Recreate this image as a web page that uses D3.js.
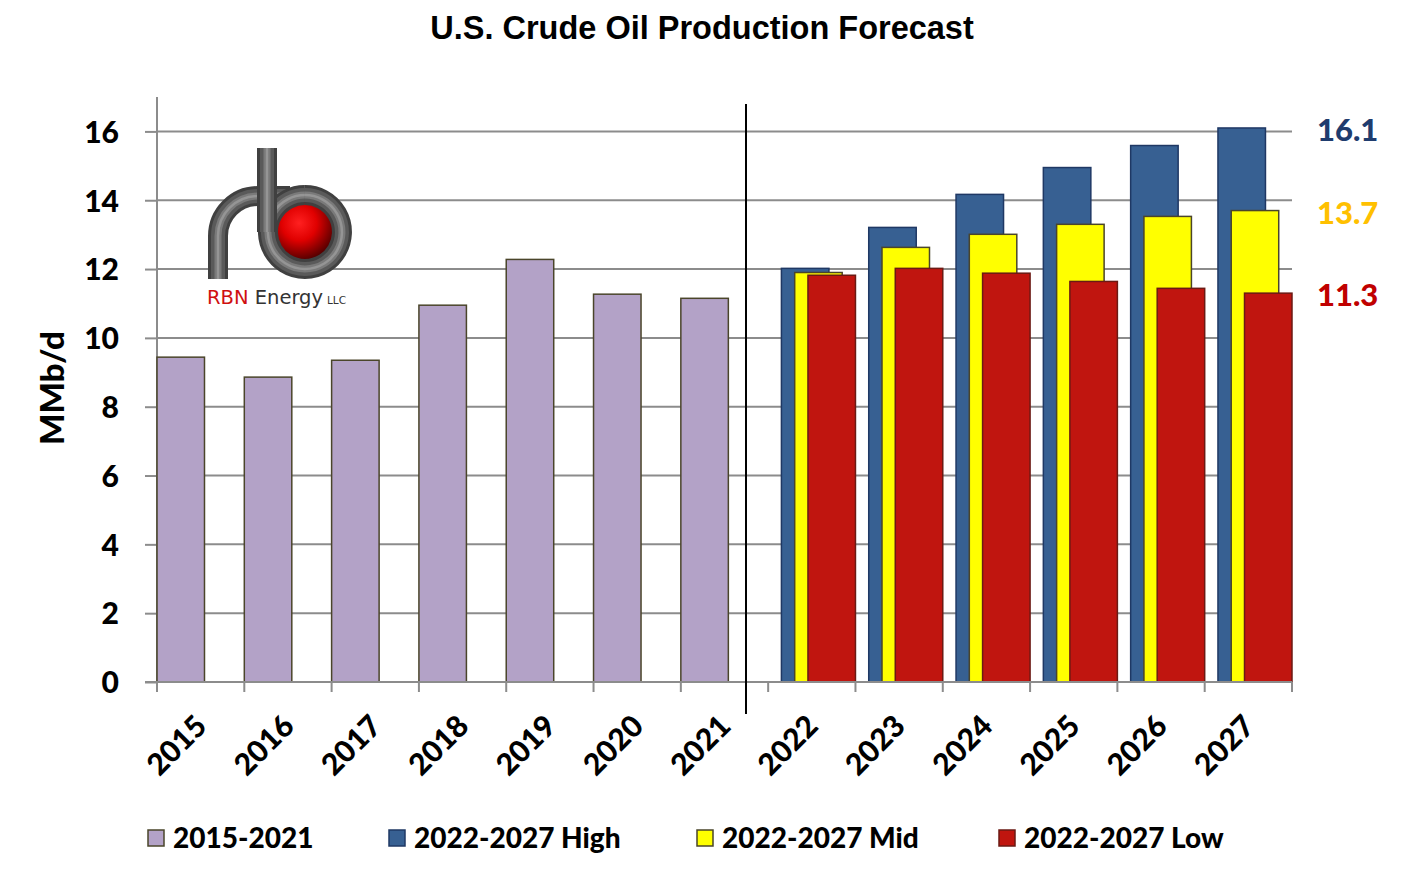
<!DOCTYPE html>
<html>
<head>
<meta charset="utf-8">
<script src="https://cdn.jsdelivr.net/npm/d3@7"></script>
<style>
  html, body { margin: 0; padding: 0; background: #fff; }
  svg { display: block; }
  .heavy { font-family: Lato, 'Open Sans', sans-serif; font-weight: 900; }
</style>
</head>
<body>
<svg id="chart" width="1420" height="879"></svg>
<script>
// ---- data ----
const years = ["2015","2016","2017","2018","2019","2020","2021","2022","2023","2024","2025","2026","2027"];
const histYears = ["2015","2016","2017","2018","2019","2020","2021"];
const histValues = [9.44, 8.86, 9.35, 10.95, 12.28, 11.27, 11.15];
const fcstYears = ["2022","2023","2024","2025","2026","2027"];
const highValues = [12.02, 13.21, 14.17, 14.95, 15.59, 16.1];
const midValues  = [11.90, 12.63, 13.01, 13.30, 13.53, 13.7];
const lowValues  = [11.82, 12.02, 11.88, 11.64, 11.44, 11.3];
const yTicks = [0, 2, 4, 6, 8, 10, 12, 14, 16];
const seriesNames = ["2015-2021", "2022-2027 High", "2022-2027 Mid", "2022-2027 Low"];
const endLabels = ["16.1", "13.7", "11.3"];

const fills   = ["#b3a2c7", "#376092", "#ffff00", "#c0150f"];
const strokes = ["#4a452a", "#1f3864", "#4a452a", "#6b1a14"];
const endLabelColors = ["#1f3c6e", "#ffc000", "#c00000"];

(function () {
const svg = d3.select("#chart");
const pLeft = 157, pRight = 1292, pTop = 97, pBottom = 682;

const x = d3.scaleBand().domain(years).range([pLeft, pRight]).paddingInner(0).paddingOuter(0);
const y = d3.scaleLinear().domain([0, 17]).range([pBottom, pTop]);
const bw = x.bandwidth();
const step = bw * 0.152, barW = bw * 0.544;

// title
svg.append("text").attr("x", 702).attr("y", 39).attr("text-anchor", "middle")
  .style("font-family", "'Liberation Sans', Arial, sans-serif").style("font-weight", "bold")
  .style("font-size", "32.5px").attr("fill", "#000").text("U.S. Crude Oil Production Forecast");

// gridlines
svg.append("g").selectAll("line").data(yTicks.filter(d => d > 0)).join("line")
  .attr("x1", pLeft).attr("x2", pRight).attr("y1", d => y(d)).attr("y2", d => y(d))
  .attr("stroke", "#8c8c8c").attr("stroke-width", 2);

// y axis
const yAxis = d3.axisLeft(y).tickValues(yTicks).tickSize(12).tickPadding(26);
const gy = svg.append("g").attr("transform", `translate(${pLeft},0)`).call(yAxis);
gy.select(".domain").attr("stroke", "#8c8c8c").attr("stroke-width", 2).attr("d", `M-12,${pBottom}H0V${pTop}`);
gy.selectAll(".tick line").attr("stroke", "#8c8c8c").attr("stroke-width", 2);
gy.selectAll(".tick text").attr("class", "heavy").style("font-size", "30px").attr("fill", "#000").attr("dy", "0.36em");

// y label
svg.append("text").attr("class", "heavy").attr("transform", "translate(64,388) rotate(-90)").attr("text-anchor", "middle")
  .style("font-size", "33px").attr("fill", "#000").text("MMb/d");

// logo
const logo = svg.append("g");
const defs = svg.append("defs");
const rg = defs.append("radialGradient").attr("id", "ball").attr("cx", "42%").attr("cy", "35%").attr("r", "65%");
rg.append("stop").attr("offset", "0%").attr("stop-color", "#ff2020");
rg.append("stop").attr("offset", "45%").attr("stop-color", "#e00000");
rg.append("stop").attr("offset", "100%").attr("stop-color", "#4a0000");
logo.append("circle").attr("cx", 304).attr("cy", 232).attr("r", 30).attr("fill", "url(#ball)");
const pipePaths = [
  "M218,279 V236 A40,40 0 0 1 258,196 H290",
  "M305,195 A37,37 0 1 1 304.9,195",
  "M267,148 V232"
];
const layers = [["#404040", 20], ["#5a5a5a", 14], ["#7a7a7a", 7], ["#959595", 2.5]];
pipePaths.forEach(p => {
  layers.forEach(([c, w]) => {
    logo.append("path").attr("d", p).attr("fill", "none").attr("stroke", c).attr("stroke-width", w);
  });
});
const lt = logo.append("text").attr("x", 207).attr("y", 304)
  .style("font-family", "'DejaVu Sans', sans-serif").style("font-size", "19.5px");
lt.append("tspan").attr("fill", "#d01010").text("RBN ");
lt.append("tspan").attr("fill", "#333").text("Energy");
lt.append("tspan").attr("fill", "#333").style("font-size", "10.5px").attr("dx", 4).text("LLC");

// bars
function drawSeries(keys, values, idx) {
  svg.append("g").selectAll("rect").data(keys.map((k, i) => ({ k, v: values[i] }))).join("rect")
    .attr("x", d => x(d.k) + idx * step).attr("width", barW)
    .attr("y", d => y(d.v)).attr("height", d => y(0) - y(d.v))
    .attr("fill", fills[idx]).attr("stroke", strokes[idx]).attr("stroke-width", 1.5);
}
drawSeries(histYears, histValues, 0);
drawSeries(fcstYears, highValues, 1);
drawSeries(fcstYears, midValues, 2);
drawSeries(fcstYears, lowValues, 3);

// x axis
svg.append("line").attr("x1", pLeft - 12).attr("x2", pRight).attr("y1", pBottom).attr("y2", pBottom)
  .attr("stroke", "#8c8c8c").attr("stroke-width", 2);
svg.append("g").selectAll("line").data(years.concat(["end"])).join("line")
  .attr("x1", (d, i) => pLeft + i * bw).attr("x2", (d, i) => pLeft + i * bw)
  .attr("y1", pBottom).attr("y2", pBottom + 10).attr("stroke", "#8c8c8c").attr("stroke-width", 2);
svg.append("g").selectAll("text").data(years).join("text").attr("class", "heavy")
  .attr("transform", d => `translate(${x(d) + bw / 2 + 8},728) rotate(-45)`)
  .attr("text-anchor", "end").style("font-size", "30px")
  .attr("fill", "#000").text(d => d);

// divider
svg.append("line").attr("x1", 746).attr("x2", 746).attr("y1", 104).attr("y2", 714)
  .attr("stroke", "#000").attr("stroke-width", 2);

// end labels
const lastVals = [highValues[5], midValues[5], lowValues[5]];
svg.append("g").selectAll("text").data(endLabels).join("text").attr("class", "heavy")
  .attr("x", 1317).attr("y", (d, i) => y(lastVals[i]) + 2).attr("dy", "0.36em")
  .style("font-size", "31px")
  .attr("fill", (d, i) => endLabelColors[i]).text(d => d);

// legend
const legX = [148, 389, 697, 999];
const leg = svg.append("g").selectAll("g").data(seriesNames).join("g")
  .attr("transform", (d, i) => `translate(${legX[i]},838)`);
leg.append("rect").attr("x", 0).attr("y", -8).attr("width", 16).attr("height", 16)
  .attr("fill", (d, i) => fills[i]).attr("stroke", (d, i) => strokes[i]).attr("stroke-width", 1.5);
leg.append("text").attr("class", "heavy").attr("x", 25).attr("y", 0).attr("dy", "0.36em")
  .style("font-size", "28px").attr("fill", "#000").text(d => d);
})();
</script>
</body>
</html>
